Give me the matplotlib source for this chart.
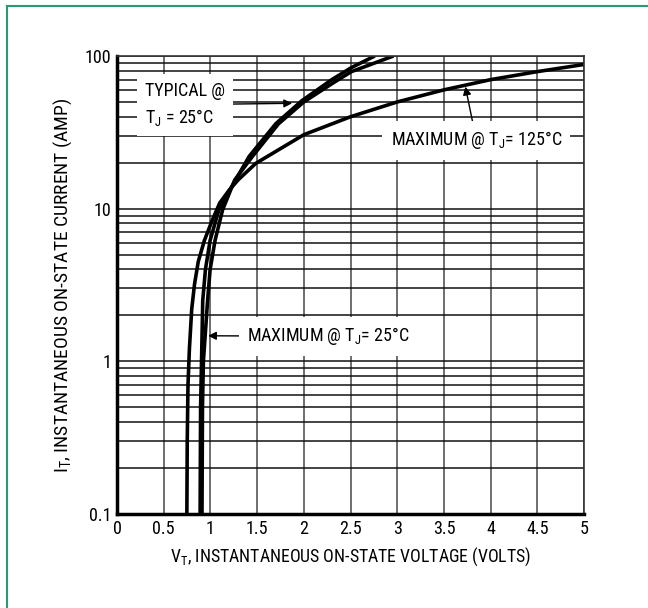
import matplotlib
matplotlib.use("Agg")
import matplotlib.pyplot as plt
from matplotlib.lines import Line2D
from matplotlib import font_manager

names = {f.name for f in font_manager.fontManager.ttflist}
fams = [f for f in ['Liberation Sans Narrow', 'DejaVu Sans Condensed', 'Roboto Condensed', 'Liberation Sans'] if f in names]
main_font = fams[0] if fams else 'DejaVu Sans'
plt.rcParams['font.family'] = [main_font, 'DejaVu Sans']
plt.rcParams['mathtext.fontset'] = 'custom'
plt.rcParams['mathtext.rm'] = main_font
plt.rcParams['mathtext.it'] = main_font

# curves (volts, amps)
v_typ_25 = [0.89, 0.895, 0.905, 0.918, 0.947, 0.997, 1.09, 1.167, 1.415, 1.70, 1.98, 2.30, 2.51, 2.76]
i_typ_25 = [0.1, 0.5, 1.0, 2.5, 4.0, 6.2, 9.8, 12, 22, 36, 51, 70, 84, 100]

v_max_25 = [0.91, 0.915, 0.925, 0.97, 0.997, 1.05, 1.13, 1.26, 1.45, 1.73, 2.0, 2.32, 2.51, 2.96]
i_max_25 = [0.1, 0.5, 1.0, 2.5, 4.0, 6.2, 9.8, 15.4, 22, 36, 50, 67, 79, 100]

v_max_125 = [0.748, 0.752, 0.760, 0.775, 0.80, 0.83, 0.87, 0.936, 1.02, 1.10, 1.20, 1.30, 1.486, 2.0, 2.5, 3.0, 3.5, 4.0, 4.5, 5.0]
i_max_125 = [0.1, 0.3, 0.7, 1.2, 2.2, 3.2, 4.5, 6.2, 8.4, 10.9, 13.2, 15.5, 19.8, 30.5, 40, 50, 60, 70, 79, 88]

x_ticks = [0, 0.5, 1, 1.5, 2, 2.5, 3, 3.5, 4, 4.5, 5]
x_labels = ["0", "0.5", "1", "1.5", "2", "2.5", "3", "3.5", "4", "4.5", "5"]
y_ticks = [0.1, 1, 10, 100]
y_labels = ["0.1", "1", "10", "100"]

fig = plt.figure(figsize=(6.48, 6.08), dpi=100)
ax = fig.add_axes([117/648, 94/608, 467/648, 458/608])

# green frame on top and left edge
green = "#2a9a72"
fig.add_artist(Line2D([7/648, 7/648], [0, 1 - 6/608], color=green, lw=1.5))
fig.add_artist(Line2D([7/648, 1], [1 - 6/608, 1 - 6/608], color=green, lw=1.5))

ax.set_yscale("log")
ax.set_xlim(0, 5)
ax.set_ylim(0.1, 100)

ax.plot(v_typ_25, i_typ_25, color="black", lw=2.6, solid_capstyle="butt")
ax.plot(v_max_25, i_max_25, color="black", lw=2.6, solid_capstyle="butt")
ax.plot(v_max_125, i_max_125, color="black", lw=2.6, solid_capstyle="butt")

ax.set_xticks(x_ticks)
ax.set_xticklabels(x_labels)
ax.set_yticks(y_ticks)
ax.set_yticklabels(y_labels)
ax.tick_params(which="both", length=0, labelsize=13, pad=4)

# grid: vertical lines grey, horizontal lines black
ax.xaxis.grid(True, color="#555555", lw=1.2)
ax.yaxis.grid(True, which="both", color="#111111", lw=1.1)
ax.set_axisbelow(True)

for s in ["left", "bottom"]:
    ax.spines[s].set_linewidth(2.5)
for s in ["top", "right"]:
    ax.spines[s].set_linewidth(1.2)
    ax.spines[s].set_color("#333333")

ax.set_xlabel("V$_\\mathrm{T}$, INSTANTANEOUS ON-STATE VOLTAGE (VOLTS)", fontsize=12.8, labelpad=6)
ax.set_ylabel("I$_\\mathrm{T}$, INSTANTANEOUS ON-STATE CURRENT (AMP)", fontsize=14, labelpad=8)

box = dict(facecolor="white", edgecolor="none", pad=6)
arrow = dict(arrowstyle="-|>", color="black", lw=1, mutation_scale=12, shrinkA=0, shrinkB=0)

ax.annotate("TYPICAL @\nT$_\\mathrm{J}$ = 25°C", xy=(1.875, 49), xytext=(0.30, 48),
            fontsize=13, va="center", ha="left", linespacing=1.45,
            bbox=box, arrowprops=arrow)
ax.annotate("MAXIMUM @ T$_\\mathrm{J}$= 125°C", xy=(3.73, 63), xytext=(2.93, 28),
            fontsize=13, va="center", ha="left", bbox=box, arrowprops=arrow)
ax.annotate("MAXIMUM @ T$_\\mathrm{J}$= 25°C", xy=(0.975, 1.47), xytext=(1.394, 1.46),
            fontsize=13, va="center", ha="left", bbox=box, arrowprops=arrow)

fig.savefig("out.png", dpi=100)
